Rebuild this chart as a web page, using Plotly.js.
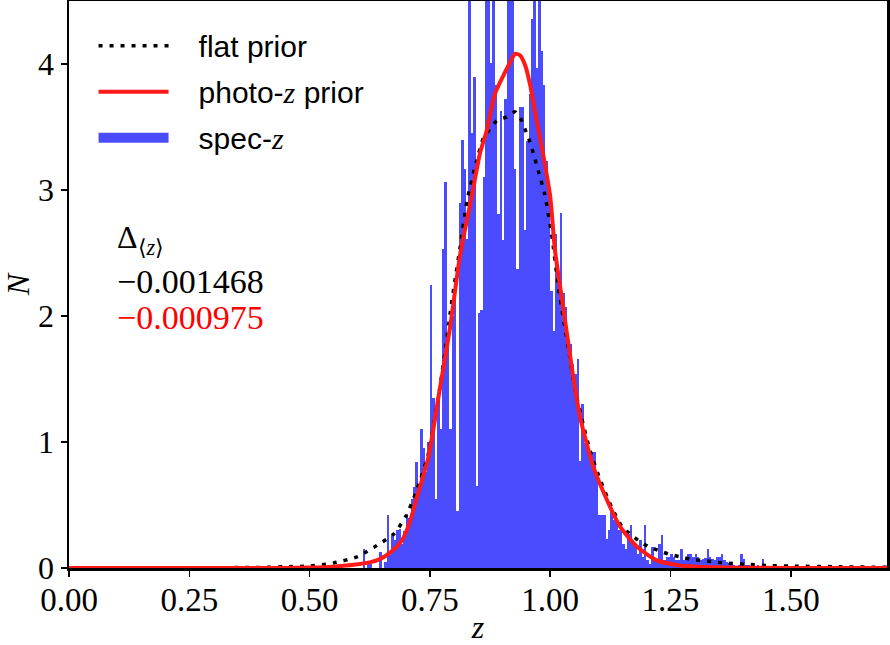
<!DOCTYPE html>
<html>
<head>
<meta charset="utf-8">
<script src="https://cdn.plot.ly/plotly-3.0.1.min.js"></script>
<style>html,body{margin:0;padding:0;background:#fff;}</style>
</head>
<body>
<div id="chart" style="width:890px;height:645px;"></div>
<script>
// Histogram of spec-z (density), bins of width 0.005 starting at 0.600
const binStart = 0.600;
const binWidth = 0.005;
const specZ = [
  0.0, 0.0, 0.15, 0.0, 0.03, 0.03, 0.0, 0.0, 0.0, 0.13,
  0.0, 0.05, 0.42, 0.10, 0.27, 0.22, 0.30, 0.31, 0.19, 0.29,
  0.43, 0.40, 0.55, 0.64, 0.84, 0.62, 1.10, 0.95, 0.76, 1.00,
  2.25, 1.35, 0.55, 1.36, 1.10, 2.53, 3.06, 1.80, 1.10, 2.00,
  2.30, 0.45, 2.90, 3.40, 3.17, 2.61, 4.60, 3.45, 3.90, 0.65,
  2.02, 2.05, 3.10, 4.60, 4.60, 4.01, 4.60, 3.83, 2.81, 3.63,
  2.60, 3.72, 4.60, 4.60, 4.60, 3.17, 2.37, 3.66, 3.66, 2.68,
  3.39, 3.76, 4.36, 4.60, 3.97, 4.60, 4.10, 3.83, 3.23, 2.97,
  2.20, 1.88, 2.65, 2.31, 2.82, 2.18, 2.07, 1.78, 1.78, 1.62,
  1.54, 1.66, 0.85, 1.30, 0.99, 0.99, 0.87, 0.92, 0.92, 0.72,
  0.42, 0.42, 0.42, 0.23, 0.30, 0.46, 0.38, 0.38, 0.30, 0.30,
  0.19, 0.15, 0.27, 0.34, 0.19, 0.19, 0.11, 0.22, 0.09, 0.34,
  0.06, 0.03, 0.17, 0.06, 0.06, 0.19, 0.26, 0.06, 0.09, 0.09,
  0.11, 0.09, 0.06, 0.06, 0.15, 0.06, 0.09, 0.11, 0.11, 0.09,
  0.11, 0.09, 0.06, 0.07, 0.08, 0.15, 0.09, 0.07, 0.06, 0.09,
  0.09, 0.11, 0.06, 0.05, 0.04, 0.03, 0.02, 0.0, 0.02, 0.11,
  0.07, 0.02, 0.02, 0.0, 0.02, 0.0, 0.02, 0.0, 0.07
];

// flat prior curve
const flatZ = [0.0, 0.30, 0.40, 0.45, 0.50, 0.55, 0.60, 0.64, 0.675, 0.70, 0.72, 0.747, 0.771, 0.782, 0.792, 0.802, 0.813, 0.827, 0.847, 0.861, 0.874, 0.889, 0.910, 0.927, 0.941, 0.950, 0.958, 0.965, 0.977, 0.989, 1.003, 1.017, 1.027, 1.041, 1.052, 1.083, 1.104, 1.128, 1.149, 1.166, 1.183, 1.204, 1.225, 1.246, 1.269, 1.291, 1.314, 1.337, 1.360, 1.405, 1.450, 1.500, 1.600, 1.700];
const flatN = [0.0, 0.002, 0.005, 0.01, 0.015, 0.04, 0.09, 0.18, 0.27, 0.41, 0.59, 0.91, 1.44, 1.73, 2.02, 2.28, 2.55, 2.91, 3.23, 3.41, 3.48, 3.55, 3.58, 3.62, 3.55, 3.46, 3.38, 3.29, 3.13, 2.96, 2.65, 2.23, 1.99, 1.67, 1.41, 0.93, 0.70, 0.48, 0.33, 0.27, 0.22, 0.17, 0.14, 0.11, 0.09, 0.07, 0.06, 0.05, 0.04, 0.03, 0.02, 0.015, 0.01, 0.005];

// photo-z prior curve
const photoZ = [0.0, 0.40, 0.50, 0.55, 0.577, 0.60, 0.625, 0.646, 0.67, 0.692, 0.708, 0.723, 0.747, 0.768, 0.792, 0.813, 0.837, 0.854, 0.868, 0.885, 0.903, 0.915, 0.927, 0.937, 0.948, 0.958, 0.972, 0.985, 1.000, 1.010, 1.027, 1.045, 1.062, 1.090, 1.118, 1.145, 1.180, 1.222, 1.270, 1.350, 1.500, 1.700];
const photoN = [0.0, 0.0, 0.003, 0.01, 0.02, 0.03, 0.045, 0.07, 0.13, 0.22, 0.36, 0.56, 0.88, 1.36, 1.91, 2.49, 2.95, 3.29, 3.47, 3.76, 3.91, 4.00, 4.08, 4.07, 3.99, 3.84, 3.55, 3.29, 2.95, 2.52, 2.07, 1.59, 1.20, 0.80, 0.54, 0.33, 0.17, 0.06, 0.02, 0.005, 0.0, 0.0];

const xTicks = [0, 0.25, 0.5, 0.75, 1.0, 1.25, 1.5];
const yTicks = [0, 1, 2, 3, 4];
const deltaLabel = 'Δ<sub>⟨<i>z</i>⟩</sub>';
const deltaFlat = '−0.001468';
const deltaPhoto = '−0.000975';

const binCenters = specZ.map((_, i) => binStart + binWidth * (i + 0.5));
const blue = 'rgb(76,76,255)';
const serif = 'Liberation Serif, Times New Roman, serif';
const sans = 'Liberation Sans, Arial, sans-serif';
const zIt = '<span style="font-family:Liberation Serif;font-style:italic">z</span>';
const pad = '\u00a0\u00a0\u00a0';

const traces = [
  {type: 'bar', x: binCenters, y: specZ, width: binWidth, marker: {color: blue, line: {width: 0}},
   showlegend: false, hoverinfo: 'skip'},
  {type: 'scatter', mode: 'lines', x: flatZ, y: flatN, name: pad + 'flat prior',
   line: {color: 'black', width: 3.5, dash: '4px,7px', shape: 'spline', smoothing: 0.6},
   legendgroup: 'a', legendrank: 1},
  {type: 'scatter', mode: 'lines', x: photoZ, y: photoN, name: pad + 'photo-' + zIt + ' prior',
   line: {color: 'rgb(255,25,25)', width: 4, shape: 'spline', smoothing: 0.6},
   legendgroup: 'b', legendrank: 2},
  {type: 'scatter', mode: 'lines', x: [null], y: [null], name: pad + 'spec-' + zIt,
   line: {color: blue, width: 22}, legendgroup: 'c', legendrank: 3}
];

const layout = {
  width: 890, height: 645,
  margin: {l: 69, r: 3, t: 1, b: 77},
  paper_bgcolor: 'white', plot_bgcolor: 'white',
  bargap: 0,
  xaxis: {range: [0, 1.7], tickvals: xTicks, tickformat: '.2f', ticks: 'outside', ticklen: 6, tickwidth: 1.5,
    tickcolor: 'black', showline: true, linecolor: 'black', linewidth: 2.5, mirror: true,
    showgrid: false, zeroline: false, tickfont: {family: serif, size: 33, color: 'black'},
    ticklabelstandoff: -5,
    title: {text: '<i>z</i>', font: {family: serif, size: 32, color: 'black'}, standoff: 4}},
  yaxis: {range: [0, 4.5], tickvals: yTicks, ticks: 'outside', ticklen: 6, tickwidth: 1.5,
    tickcolor: 'black', showline: true, linecolor: 'black', linewidth: 2.5, mirror: true,
    showgrid: false, zeroline: false, tickfont: {family: serif, size: 32, color: 'black'},
    title: {text: '<i>N</i>', font: {family: serif, size: 32, color: 'black'}, standoff: 10}},
  legend: {x: 0.03, y: 0.967, xanchor: 'left', yanchor: 'top', bgcolor: 'rgba(0,0,0,0)',
    font: {family: sans, size: 30, color: 'black'}, traceorder: 'grouped', tracegroupgap: 4,
    itemwidth: 70},
  showlegend: true,
  annotations: [
    {xref: 'paper', yref: 'paper', x: 0.056, y: 0.58, xanchor: 'left', yanchor: 'middle', showarrow: false,
     text: deltaLabel, font: {family: serif, size: 32, color: 'black'}},
    {xref: 'paper', yref: 'paper', x: 0.056, y: 0.506, xanchor: 'left', yanchor: 'middle', showarrow: false,
     text: deltaFlat, font: {family: serif, size: 34, color: 'black'}},
    {xref: 'paper', yref: 'paper', x: 0.056, y: 0.441, xanchor: 'left', yanchor: 'middle', showarrow: false,
     text: deltaPhoto, font: {family: serif, size: 34, color: 'red'}}
  ]
};

Plotly.newPlot('chart', traces, layout, {displayModeBar: false, staticPlot: true});
</script>
</body>
</html>
